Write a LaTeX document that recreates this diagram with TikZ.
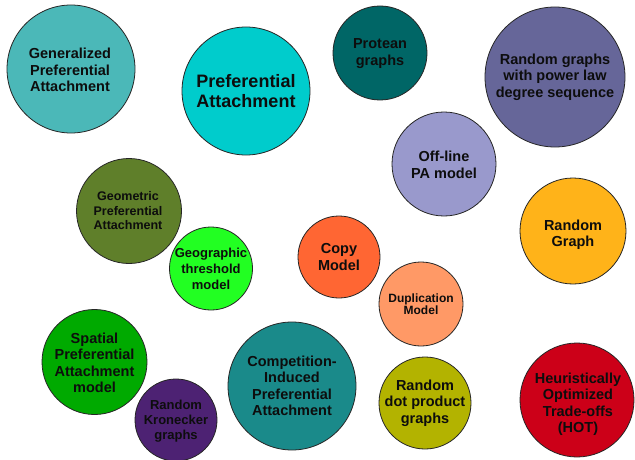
\documentclass[tikz,border=0pt]{standalone}
\usepackage{fontspec}
\setmainfont{Liberation Sans}
\definecolor{cGPA}{HTML}{4BB8B8}
\definecolor{cPA}{HTML}{00CCCC}
\definecolor{cPro}{HTML}{006666}
\definecolor{cPow}{HTML}{666699}
\definecolor{cOff}{HTML}{9999CC}
\definecolor{cRG}{HTML}{FFB319}
\definecolor{cGeo}{HTML}{5F7F2A}
\definecolor{cGth}{HTML}{22FF22}
\definecolor{cCopy}{HTML}{FF6633}
\definecolor{cDup}{HTML}{FF9966}
\definecolor{cSpa}{HTML}{00AA00}
\definecolor{cKro}{HTML}{4D2273}
\definecolor{cCom}{HTML}{1A8A8A}
\definecolor{cDot}{HTML}{B3B300}
\definecolor{cHOT}{HTML}{CC0018}
\tikzset{
  bubble/.style={circle, draw=black!85, line width=0.8pt, inner sep=0pt},
  lbl/.style={align=center, inner sep=0pt, text=black!95, font=\fontsize{14.5}{16.5}\selectfont\bfseries},
}
\begin{document}
\begin{tikzpicture}[x=1pt,y=-1pt]
\useasboundingbox (0,0) rectangle (635,460);
\fill[white] (0,0) rectangle (635,460);
% circles
\node[bubble, fill=cGPA, minimum size=128pt] (gpa) at (71,69) {};
\node[bubble, fill=cPA, minimum size=128pt] (pa) at (246,91) {};
\node[bubble, fill=cPro, minimum size=94pt] (pro) at (380,53) {};
\node[bubble, fill=cPow, minimum size=140pt] (pow) at (555,77) {};
\node[bubble, fill=cOff, minimum size=104pt] (off) at (444,164) {};
\node[bubble, fill=cRG, minimum size=106pt] (rg) at (573,231) {};
\node[bubble, fill=cGeo, minimum size=105pt] (geo) at (129,211) {};
\node[bubble, fill=cGth, minimum size=83pt] (gth) at (211,268.5) {};
\node[bubble, fill=cCopy, minimum size=82pt] (copy) at (339,257) {};
\node[bubble, fill=cDup, minimum size=84pt] (dup) at (421,304) {};
\node[bubble, fill=cSpa, minimum size=105pt] (spa) at (94.5,362) {};
\node[bubble, fill=cKro, minimum size=82pt] (kro) at (176,420) {};
\node[bubble, fill=cCom, minimum size=128pt] (com) at (292,386) {};
\node[bubble, fill=cDot, minimum size=92pt] (dot) at (425,403) {};
\node[bubble, fill=cHOT, minimum size=114pt] (hot) at (577,400) {};
% labels
\node[lbl] (gpa-t) at (70,70) {Generalized\\Preferential\\Attachment};
\node[lbl, font=\fontsize{18}{20}\selectfont\bfseries] (pa-t) at (246,91) {Preferential\\Attachment};
\node[lbl] (pro-t) at (380,53.5) {Protean\\graphs};
\node[lbl] (pow-t) at (555,77) {Random graphs\\with power law\\degree sequence};
\node[lbl] (off-t) at (444,165) {Off-line\\PA model};
\node[lbl] (rg-t) at (573,234.5) {Random\\Graph};
\node[lbl, font=\fontsize{12.5}{14.5}\selectfont\bfseries] (geo-t) at (128,211) {Geometric\\Preferential\\Attachment};
\node[lbl, font=\fontsize{13}{16}\selectfont\bfseries] (gth-t) at (211,269) {Geographic\\threshold\\model};
\node[lbl] (copy-t) at (339,257) {Copy\\Model};
\node[lbl, font=\fontsize{12}{12.5}\selectfont\bfseries] (dup-t) at (421,304) {Duplication\\Model};
\node[lbl] (spa-t) at (94.5,363) {Spatial\\Preferential\\Attachment\\model};
\node[lbl, font=\fontsize{13}{14.7}\selectfont\bfseries] (kro-t) at (176,421) {Random\\Kronecker\\graphs};
\node[lbl] (com-t) at (292,386) {Competition-\\Induced\\Preferential\\Attachment};
\node[lbl] (dot-t) at (425,403) {Random\\dot product\\graphs};
\node[lbl] (hot-t) at (578,404) {Heuristically\\Optimized\\Trade-offs\\(HOT)};
\end{tikzpicture}
\end{document}
